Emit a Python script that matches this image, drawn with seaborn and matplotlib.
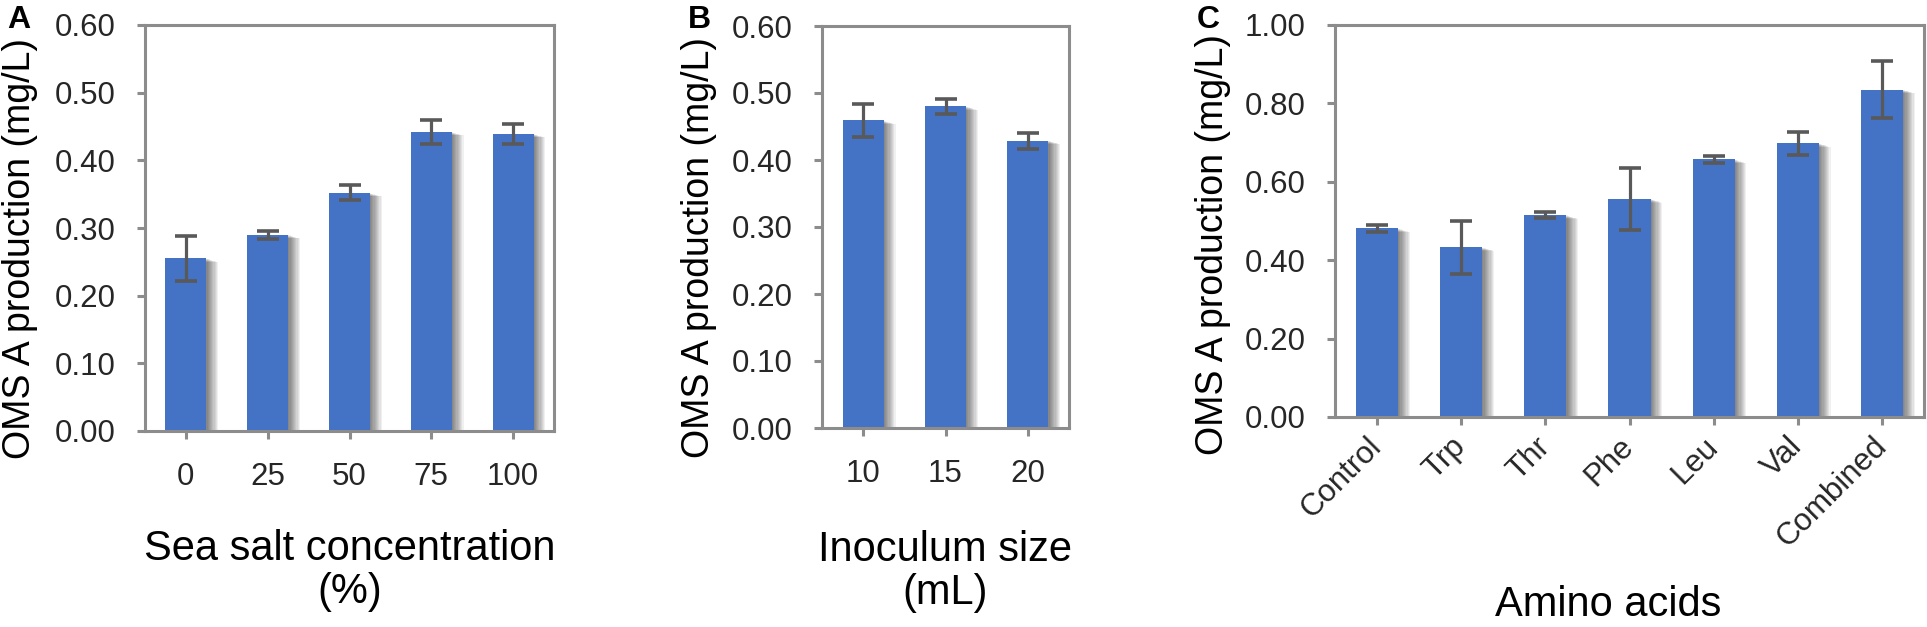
import numpy as np
import pandas as pd
import matplotlib
matplotlib.use("Agg")
import matplotlib.pyplot as plt
from matplotlib import patheffects as pe
import seaborn as sns

# ---------------- data ----------------
salt_labels = ["0", "25", "50", "75", "100"]
salt_values = [0.255, 0.290, 0.352, 0.442, 0.439]
salt_errors = [0.033, 0.006, 0.011, 0.018, 0.015]

inoc_labels = ["10", "15", "20"]
inoc_values = [0.459, 0.480, 0.429]
inoc_errors = [0.024, 0.011, 0.012]

amino_labels = ["Control", "Trp", "Thr", "Phe", "Leu", "Val", "Combined"]
amino_values = [0.481, 0.433, 0.515, 0.556, 0.657, 0.698, 0.835]
amino_errors = [0.010, 0.068, 0.007, 0.078, 0.010, 0.030, 0.073]

ylab = "OMS A production (mg/L)"
yticks_ab = [0.0, 0.1, 0.2, 0.3, 0.4, 0.5, 0.6]
yticks_c = [0.0, 0.2, 0.4, 0.6, 0.8, 1.0]

# ---------------- style ----------------
sns.set_theme(style="white")
plt.rcParams["font.family"] = ["Liberation Sans", "DejaVu Sans"]

BAR = "#4472C4"
ERR = "#595959"
SPINE = "#8c8c8c"
TXT = "#262626"

W, H = 1927, 627
fig = plt.figure(figsize=(W / 100, H / 100), dpi=100)


def px_axes(l, r, t, b):
    return fig.add_axes([l / W, 1 - b / H, (r - l) / W, (b - t) / H])


def shadow_effects():
    effs = []
    for k in range(1, 11):
        effs.append(pe.SimplePatchShadow(offset=(k * 0.85, -k * 0.25),
                                         shadow_rgbFace="black", alpha=0.06))
    effs.append(pe.Normal())
    return effs


def panel(ax, labels, values, errors, yticks, ymax, xlabel, rot=False):
    df = pd.DataFrame({"cat": labels, "val": values})
    sns.barplot(data=df, x="cat", y="val", order=labels, color=BAR,
                saturation=1, width=0.5, errorbar=None, ax=ax, zorder=2)
    for p in ax.patches:
        p.set_path_effects(shadow_effects())
        p.set_edgecolor("none")
    ax.errorbar(np.arange(len(labels)), values, yerr=errors, fmt="none",
                ecolor=ERR, elinewidth=2.3, capsize=8, capthick=2.6, zorder=3)
    ax.set_xlim(-0.5, len(labels) - 0.5)
    ax.set_ylim(0, ymax)
    ax.set_yticks(yticks)
    ax.set_yticklabels([f"{v:.2f}" for v in yticks])
    for s in ax.spines.values():
        s.set_visible(True)
        s.set_color(SPINE)
        s.set_linewidth(2.2)
        s.set_zorder(4)
    ax.tick_params(axis="y", direction="out", length=6, width=2.2,
                   color=SPINE, labelsize=22.5, labelcolor=TXT, pad=15, left=True)
    ax.tick_params(axis="x", direction="out", length=6, width=2.2,
                   color=SPINE, labelsize=22.5, labelcolor=TXT, pad=16, bottom=True)
    if rot:
        for t in ax.get_xticklabels():
            t.set_rotation(45)
            t.set_ha("right")
            t.set_va("center")
            t.set_rotation_mode("anchor")
        ax.tick_params(axis="x", pad=12)
    ax.set_xlabel(xlabel, fontsize=30, color="black", linespacing=1.1)
    ax.set_ylabel(ylab, fontsize=27, color="black", va="center")
    ax.grid(False)


axA = px_axes(145, 554, 25, 431)
panel(axA, salt_labels, salt_values, salt_errors, yticks_ab, 0.6,
      "Sea salt concentration\n(%)")
axA.yaxis.set_label_coords((20 - 145) / 409, 0.45)
axA.xaxis.set_label_coords(0.5, (431 - 529) / 406)

axB = px_axes(822, 1069, 26, 428)
panel(axB, inoc_labels, inoc_values, inoc_errors, yticks_ab, 0.6,
      "Inoculum size\n(mL)")
axB.yaxis.set_label_coords((699 - 822) / 247, 0.45)
axB.xaxis.set_label_coords(0.5, (428 - 530) / 402)

axC = px_axes(1335, 1924, 25, 417)
panel(axC, amino_labels, amino_values, amino_errors, yticks_c, 1.0,
      "Amino acids", rot=True)
axC.yaxis.set_label_coords((1213 - 1335) / 589, 0.44)
axC.xaxis.set_label_coords(0.463, (417 - 585) / 392)

for letter, x in [("A", 7), ("B", 688), ("C", 1197)]:
    fig.text(x / W, 1 - 5 / H, letter, fontsize=23, fontweight="bold",
             ha="left", va="top", color="black")

fig.savefig("out.png", dpi=100, facecolor="white")
